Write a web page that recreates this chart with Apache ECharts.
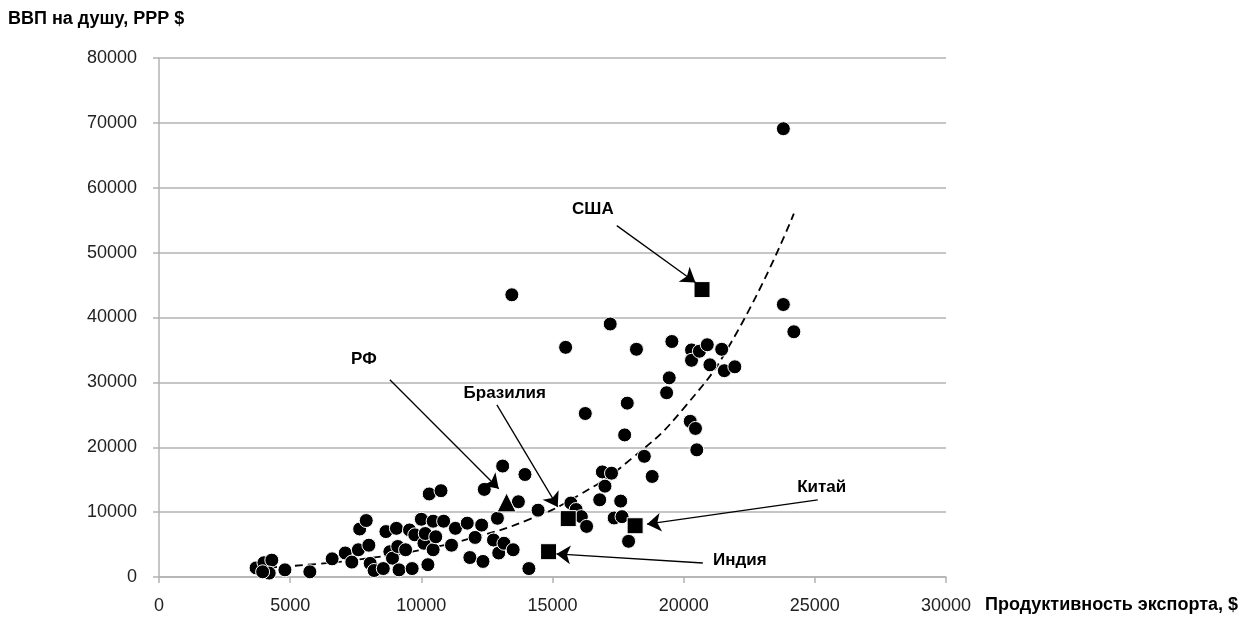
<!DOCTYPE html>
<html><head><meta charset="utf-8">
<script src="https://cdn.jsdelivr.net/npm/echarts@6/dist/echarts.min.js"></script>
<style>html,body{margin:0;padding:0;background:#fff}#c{width:1245px;height:625px}</style>
</head><body><div id="c"></div>
<script>
// ---- data ----
const xTicks = [0, 5000, 10000, 15000, 20000, 25000, 30000];
const yTicks = [0, 10000, 20000, 30000, 40000, 50000, 60000, 70000, 80000];
const xName = 'Продуктивность экспорта, $';
const yName = 'ВВП на душу, PPP $';

// [export productivity, GDP per capita PPP]
const countries = [
  [3700,1400],[4000,2200],[4300,2600],[4200,600],[3950,800],[4800,1100],[5750,800],[6600,2800],[7100,3700],
  [7350,2300],[7600,4200],[7650,7400],[7900,8700],[8000,4900],[8050,2100],[8200,1000],[8550,1300],[8650,7000],
  [8800,3900],[8900,2900],[9050,7500],[9100,4700],[9150,1100],[9400,4200],[9550,7250],[9650,1300],[9750,6500],
  [10000,8900],[10100,5200],[10150,6700],[10250,1900],[10300,12800],[10450,8600],[10450,4200],[10550,6200],
  [10750,13300],[10850,8600],[11150,4900],[11300,7500],[11750,8300],[11850,3000],[12050,6100],[12300,8000],
  [12350,2400],[12400,13500],[12750,5700],[12900,9050],[12950,3700],[13100,17100],[13150,5200],[13500,4200],
  [13450,43500],[13700,11600],[13950,15800],[14100,1300],[14450,10300],[15500,35400],[15700,11400],[15900,10400],
  [16100,9300],[16250,25200],[16300,7800],[16800,11900],[16900,16200],[17000,14000],[17200,39000],[17250,16000],
  [17350,9100],[17600,11700],[17650,9300],[17750,21900],[17850,26800],[17900,5500],[18200,35100],[18500,18600],
  [18800,15500],[19350,28400],[19450,30700],[19550,36300],[20250,24000],[20300,35000],[20300,33400],[20450,22900],
  [20500,19600],[20600,34800],[20900,35800],[21000,32700],[21450,35100],[21550,31800],[21950,32400],
  [23800,69100],[23800,42000],[24200,37800]
];

const highlightNames = ['США', 'Китай', 'Индия', 'Бразилия', 'РФ'];
const highlightValues = [[20700,44300],[18150,7900],[14850,3900],[15600,9000],[13250,11500]];
const highlightSymbols = ['rect','rect','rect','rect','triangle'];

// dashed trend line
const trendX = [3700, 6000, 8000, 10000, 12000, 14000, 16000, 18000, 20000, 22000, 24200];
const trendY = [1350, 2000, 2900, 4200, 6100, 8700, 12600, 18200, 26000, 37500, 56000];

// annotation label anchors and arrows (data coordinates)
const labelNames = ['США', 'РФ', 'Бразилия', 'Китай', 'Индия'];
const labelPos = [[16540,56630],[7810,33480],[13180,28390],[25260,13890],[22140,2620]];
const arrowFrom = [[17450,54160],[8800,30400],[12880,26540],[25110,11880],[20730,2160]];
const arrowTo = [[20450,45400],[12950,13600],[15200,10800],[18600,8150],[15150,3550]];

// ---- chart ----
const FONT = '"Liberation Sans", Arial, sans-serif';
const chart = echarts.init(document.getElementById('c'), null, {renderer:'canvas'});
chart.setOption({
  animation: false,
  backgroundColor: '#fff',
  grid: {left: 159, right: 299, top: 58, bottom: 48, containLabel: false},
  xAxis: {
    type: 'value', min: 0, max: 30000, interval: 5000,
    axisLine: {show: true, onZero: false, lineStyle: {color: '#b3b3b3', width: 1.5}},
    axisTick: {show: true, length: 6, lineStyle: {color: '#b3b3b3', width: 1.5}},
    axisLabel: {color: '#222', fontSize: 18, fontFamily: FONT, margin: 20,
      formatter: v => xTicks.includes(v) ? String(v) : ''},
    splitLine: {show: false}
  },
  yAxis: {
    type: 'value', min: 0, max: 80000, interval: 10000,
    axisLine: {show: true, lineStyle: {color: '#b3b3b3', width: 1.5}},
    axisTick: {show: true, length: 6, lineStyle: {color: '#b3b3b3', width: 1.5}},
    axisLabel: {color: '#222', fontSize: 18, fontFamily: FONT, margin: 22,
      formatter: v => yTicks.includes(v) ? String(v) : ''},
    splitLine: {show: true, lineStyle: {color: '#b3b3b3', width: 1.5}}
  },
  graphic: [
    {type: 'text', left: 8, top: 10, style: {text: yName, fill: '#000', font: 'bold 18px ' + FONT}},
    {type: 'text', left: 985, top: 596, style: {text: xName, fill: '#000', font: 'bold 18px ' + FONT}}
  ],
  series: [
    {
      type: 'line', name: 'trend', z: 1,
      data: trendX.map((x, i) => [x, trendY[i]]),
      smooth: true, showSymbol: false, symbol: 'none',
      lineStyle: {color: '#000', width: 1.8, type: [8, 5]}
    },
    {
      type: 'scatter', name: 'countries', z: 3,
      data: countries, symbol: 'circle', symbolSize: 14,
      itemStyle: {color: '#000', borderColor: '#fff', borderWidth: 1, opacity: 1}
    },
    {
      type: 'scatter', name: 'highlight', z: 4,
      data: highlightValues.map((v, i) => ({name: highlightNames[i], value: v,
        symbol: highlightSymbols[i], symbolSize: highlightSymbols[i] === 'triangle' ? 19 : 16})),
      itemStyle: {color: '#000', borderColor: '#fff', borderWidth: 1, opacity: 1}
    },
    {
      type: 'scatter', name: 'annotations', z: 5, data: [],
      markLine: {
        silent: true, symbol: ['none', 'arrow'], symbolSize: 14,
        lineStyle: {color: '#000', width: 1.3, type: 'solid'},
        label: {show: false},
        data: arrowFrom.map((f, i) => [{coord: f}, {coord: arrowTo[i]}])
      },
      markPoint: {
        silent: true, symbol: 'rect', symbolSize: 1,
        itemStyle: {color: 'rgba(0,0,0,0)'},
        label: {show: true, position: 'inside', formatter: '{b}', color: '#000',
          fontWeight: 'bold', fontSize: 17, fontFamily: FONT},
        data: labelPos.map((p, i) => ({name: labelNames[i], coord: p}))
      }
    }
  ]
});
</script>
</body></html>
